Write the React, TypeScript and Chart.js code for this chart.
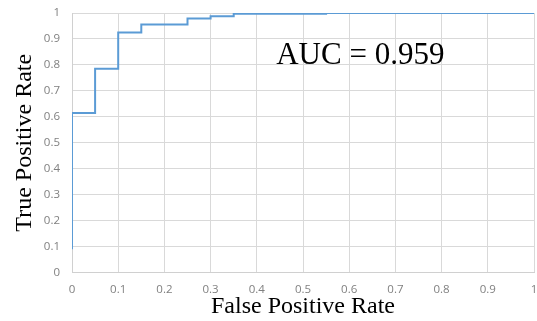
import React, { useEffect, useRef } from "react";
import { Chart, registerables } from "chart.js";

Chart.register(...registerables);

// ROC curve: false positive rate vs. true positive rate
const fpr = [0, 0, 0.05, 0.1, 0.15, 0.25, 0.3, 0.35, 0.55, 1];
const tpr = [0.09, 0.615, 0.785, 0.925, 0.956, 0.979, 0.987, 0.997, 1, 1];

const xTicks = [0, 0.1, 0.2, 0.3, 0.4, 0.5, 0.6, 0.7, 0.8, 0.9, 1];
const yTicks = [0, 0.1, 0.2, 0.3, 0.4, 0.5, 0.6, 0.7, 0.8, 0.9, 1];

const aucLabel = "AUC = 0.959";
const aucAt = { x: 0.624, y: 0.805 };

const xTitle = "False Positive Rate";
const yTitle = "True Positive Rate";

const fmt = (v: number) => (Number.isInteger(v) ? String(v) : v.toFixed(1));

// Writes the AUC value inside the plot, placed in data coordinates
const aucPlugin = {
  id: "aucLabel",
  afterDatasetsDraw(chart: any) {
    const { ctx, scales } = chart;
    const px = scales.x.getPixelForValue(aucAt.x);
    const py = scales.y.getPixelForValue(aucAt.y);
    ctx.save();
    ctx.font = '31px "Liberation Serif", "Times New Roman", serif';
    ctx.fillStyle = "#000000";
    ctx.textAlign = "center";
    ctx.textBaseline = "alphabetic";
    ctx.fillText(aucLabel, px, py);
    ctx.restore();
  },
};

export default function App() {
  const canvasRef = useRef<HTMLCanvasElement | null>(null);

  useEffect(() => {
    const canvas = canvasRef.current;
    if (!canvas) return;
    const tickFont = { family: '"Open Sans", sans-serif', size: 11.5 };
    const titleFont = { family: '"Liberation Serif", "Times New Roman", serif', size: 24, lineHeight: 1 };
    const chart = new Chart(canvas, {
      type: "line",
      data: {
        datasets: [
          {
            data: fpr.map((x, i) => ({ x, y: tpr[i] })),
            borderColor: "#5b9bd5",
            borderWidth: 2,
            pointRadius: 0,
            fill: false,
            stepped: "before",
          },
        ],
      },
      options: {
        animation: false,
        responsive: false,
        layout: { padding: { top: 13, right: 3, left: 0, bottom: 0 } },
        plugins: { legend: { display: false }, tooltip: { enabled: false } },
        scales: {
          x: {
            type: "linear",
            min: 0,
            max: 1,
            afterBuildTicks: (s: any) => {
              s.ticks = xTicks.map((v) => ({ value: v }));
            },
            afterFit: (s: any) => {
              s.height = 48.5;
              s.paddingLeft = 0;
              s.paddingRight = 0;
            },
            ticks: {
              color: "#808080",
              font: tickFont,
              padding: 10,
              maxRotation: 0,
              callback: (v: any) => fmt(Number(v)),
            },
            grid: { color: "#d9d9d9", lineWidth: 1, drawTicks: false },
            border: { color: "#d0d0d0" },
            title: {
              display: true,
              text: xTitle,
              color: "#000000",
              font: titleFont,
              padding: { top: 0, bottom: 2 },
            },
          },
          y: {
            type: "linear",
            min: 0,
            max: 1,
            afterBuildTicks: (s: any) => {
              s.ticks = yTicks.map((v) => ({ value: v }));
            },
            afterFit: (s: any) => {
              s.width = 72;
              s.paddingTop = 0;
              s.paddingBottom = 0;
            },
            ticks: {
              color: "#808080",
              font: tickFont,
              padding: 12,
              callback: (v: any) => fmt(Number(v)),
            },
            grid: { color: "#d9d9d9", lineWidth: 1, drawTicks: false },
            border: { color: "#d0d0d0" },
            title: {
              display: true,
              text: yTitle,
              color: "#000000",
              font: titleFont,
              padding: { top: 13, bottom: 0 },
            },
          },
        },
      },
      plugins: [aucPlugin],
    } as any);
    return () => chart.destroy();
  }, []);

  return (
    <div style={{ position: "fixed", left: 0, top: 0, width: 537, height: 321, background: "#ffffff" }}>
      <canvas ref={canvasRef} width={537} height={321} />
    </div>
  );
}
